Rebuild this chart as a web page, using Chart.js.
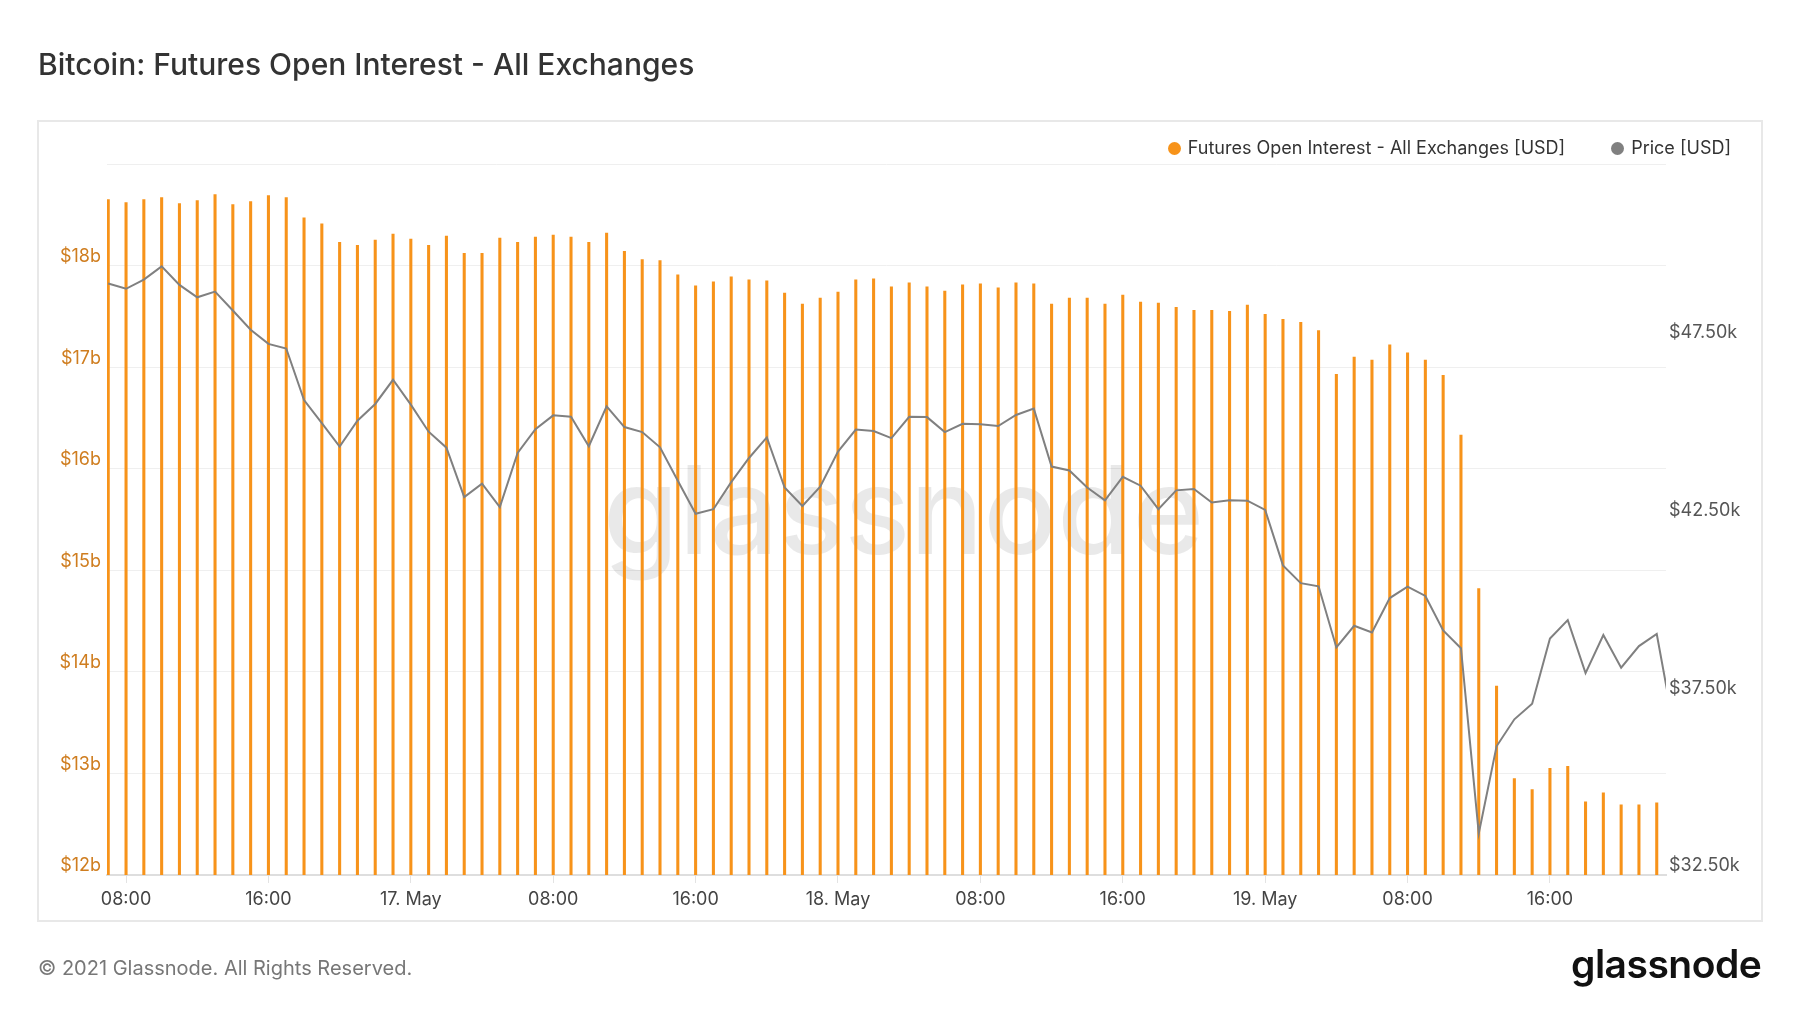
<!DOCTYPE html>
<html><head><meta charset="utf-8">
<script src="https://cdn.jsdelivr.net/npm/chart.js@4.4.1/dist/chart.umd.min.js"></script>
<style>
html,body{margin:0;padding:0;background:#fff;width:1800px;height:1013px;overflow:hidden;font-family:Inter,'Noto Sans',sans-serif;}
#box{position:absolute;left:37px;top:120px;width:1722px;height:798px;border:2px solid #e8e8e8;}
canvas{position:absolute;left:0;top:0;}
.t{position:absolute;white-space:nowrap;line-height:1;}
#legend{position:absolute;right:69px;top:139px;display:flex;gap:46px;font-size:18px;line-height:1;color:#333;white-space:nowrap;}
#legend .it{display:flex;align-items:center;}
#legend .dot{width:13px;height:13px;border-radius:50%;margin-right:7px;margin-top:1px;}
</style></head><body>
<div id="box"></div>
<canvas id="c" width="1800" height="1013"></canvas>
<div class="t" style="left:38px;top:49px;font-size:30px;font-weight:500;color:#333;">Bitcoin: Futures Open Interest - All Exchanges</div>
<div id="legend"></div>
<div class="t" style="left:38px;top:958px;font-size:20px;color:#777;">© 2021 Glassnode. All Rights Reserved.</div>
<div class="t" style="left:1571px;top:944px;font-size:39px;font-weight:600;color:#111;letter-spacing:-0.5px;">glassnode</div>
<script>
// Hourly data, 16 May 2021 07:00 onwards (index = hours since start)
const oiBillions = [
  18.65,18.62,18.65,18.67,18.61,18.64,18.70,18.60,18.63,18.69,
  18.67,18.47,18.41,18.23,18.20,18.25,18.31,18.26,18.20,18.29,
  18.12,18.12,18.27,18.23,18.28,18.30,18.28,18.23,18.32,18.14,
  18.06,18.05,17.91,17.80,17.84,17.89,17.86,17.85,17.73,17.62,
  17.68,17.74,17.86,17.87,17.79,17.83,17.79,17.75,17.81,17.82,
  17.78,17.83,17.82,17.62,17.68,17.68,17.62,17.71,17.64,17.63,
  17.59,17.56,17.56,17.55,17.61,17.52,17.47,17.44,17.36,16.93,
  17.10,17.07,17.22,17.14,17.07,16.92,16.33,14.82,13.86,12.95,
  12.84,13.05,13.07,12.72,12.81,12.69,12.69,12.71
];
const priceThousands = [
  49.14,48.99,49.25,49.62,49.10,48.75,48.91,48.38,47.84,47.44,
  47.31,45.86,45.21,44.55,45.28,45.75,46.43,45.73,44.97,44.52,
  43.13,43.51,42.85,44.37,45.04,45.43,45.39,44.56,45.68,45.10,
  44.96,44.53,43.59,42.66,42.79,43.55,44.23,44.81,43.40,42.88,
  43.42,44.41,45.03,44.99,44.79,45.39,45.38,44.96,45.19,45.18,
  45.13,45.44,45.62,43.99,43.88,43.40,43.04,43.70,43.45,42.79,
  43.32,43.36,42.98,43.04,43.03,42.77,41.21,40.71,40.62,38.90,
  39.51,39.32,40.29,40.61,40.35,39.38,38.88,33.67,36.12,36.88,
  37.32,39.15,39.67,38.18,39.25,38.33,38.94,39.28,36.55
];
const xTickPositions = [1,9,17,25,33,41,49,57,65,73,81];
const xTickLabels = ['08:00','16:00','17. May','08:00','16:00','18. May','08:00','16:00','19. May','08:00','16:00'];
const seriesNames = ['Futures Open Interest - All Exchanges [USD]','Price [USD]'];
const seriesColors = ['#f7931a','#808080'];

const watermark = {
  id:'wm',
  beforeDatasetsDraw(chart){
    const {ctx, chartArea:a} = chart;
    ctx.save();
    ctx.font = '500 122px Inter';
    ctx.fillStyle = 'rgba(0,0,0,0.085)';
    ctx.textAlign = 'center';
    ctx.textBaseline = 'alphabetic';
    ctx.fillText('glassnode', a.left + 0.511*(a.right-a.left), a.top + 0.548*(a.bottom-a.top));
    ctx.restore();
  }
};

function draw(){
  Chart.defaults.font.family = 'Inter';
  const chart = new Chart(document.getElementById('c'), {
    data: {
      datasets: [
        {type:'bar', label:seriesNames[0], data:oiBillions.map((v,i)=>({x:i,y:v})),
         backgroundColor:seriesColors[0], borderWidth:0, barThickness:2.4, yAxisID:'y', order:1},
        {type:'line', label:seriesNames[1], data:priceThousands.map((v,i)=>({x:i,y:v})),
         borderColor:seriesColors[1], backgroundColor:seriesColors[1], borderWidth:2, pointRadius:0,
         tension:0, yAxisID:'y1', order:0}
      ]
    },
    options: {
      responsive:false, animation:false,
      layout:{padding:{left:37,right:34,top:164,bottom:78}},
      plugins:{legend:{display:false}, tooltip:{enabled:false}},
      scales:{
        x:{type:'linear', offset:false, min:-0.07, max:87.52,
           afterBuildTicks:s=>{s.ticks = xTickPositions.map(v=>({value:v}));},
           afterFit:s=>{s.height=60;},
           ticks:{autoSkip:false, maxRotation:0, padding:6, color:'#444', font:{size:18},
                  callback:v=>{const i=xTickPositions.indexOf(v); return i>=0?xTickLabels[i]:'';}},
           grid:{offset:false, drawOnChartArea:false, drawTicks:true, tickLength:8, color:'#e3e3e3'},
           border:{display:true, color:'#dedede', width:2}},
        y:{position:'left', min:12, max:19, afterFit:s=>{s.width=70;},
           ticks:{stepSize:1, padding:6, labelOffset:-9, color:'#cf7d1f', font:{size:18},
                  callback:v=> v>=19?'':'$'+v+'b'},
           grid:{color:'#efefef', drawTicks:false}, border:{display:false}},
        y1:{position:'right', min:32.5, max:52.5, afterFit:s=>{s.width=100;},
            ticks:{stepSize:5, padding:-5, labelOffset:-9, color:'#555', font:{size:18},
                   callback:v=> v>=52.5?'':'$'+Number(v).toFixed(2)+'k'},
            grid:{display:false}, border:{display:false}}
      }
    },
    plugins:[watermark]
  });
  const lg = document.getElementById('legend');
  chart.data.datasets.forEach(ds=>{
    const it = document.createElement('div'); it.className='it';
    const d = document.createElement('span'); d.className='dot'; d.style.background = ds.type==='bar'?ds.backgroundColor:ds.borderColor;
    const t = document.createElement('span'); t.textContent = ds.label;
    it.appendChild(d); it.appendChild(t); lg.appendChild(it);
  });
}
if (document.fonts && document.fonts.load) {
  Promise.all([document.fonts.load('18px Inter'),document.fonts.load('500 122px Inter')]).then(draw, draw);
} else draw();
</script>
</body></html>
